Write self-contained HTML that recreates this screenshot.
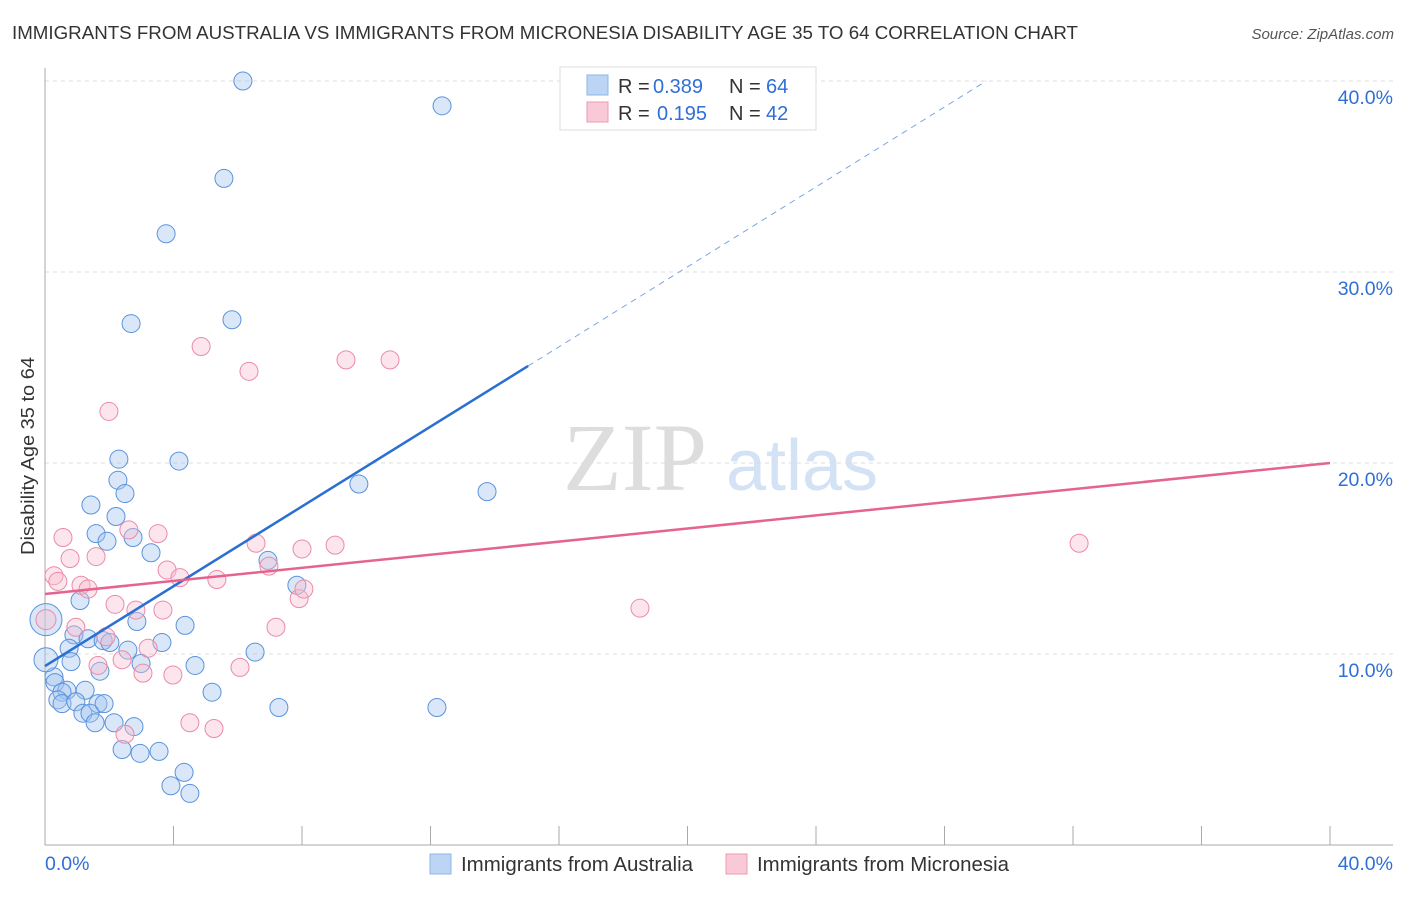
<!DOCTYPE html>
<html><head><meta charset="utf-8"><style>
body{margin:0;background:#fff;width:1406px;height:892px;overflow:hidden;font-family:"Liberation Sans",sans-serif}
</style></head><body>
<svg id="chart" width="1406" height="892" xmlns="http://www.w3.org/2000/svg" font-family="Liberation Sans, sans-serif">
<text x="12" y="39" font-size="18" fill="#333" textLength="1066" lengthAdjust="spacingAndGlyphs">IMMIGRANTS FROM AUSTRALIA VS IMMIGRANTS FROM MICRONESIA DISABILITY AGE 35 TO 64 CORRELATION CHART</text>
<text x="1394" y="39" font-size="15" fill="#555" font-style="italic" text-anchor="end">Source: ZipAtlas.com</text>
<text transform="translate(34,456) rotate(-90)" font-size="18" fill="#333" text-anchor="middle" textLength="198" lengthAdjust="spacingAndGlyphs">Disability Age 35 to 64</text>
<g>
<text x="635" y="490" font-size="96" fill="#ddd" font-family="Liberation Serif, serif" text-anchor="middle">ZIP</text>
<text x="802" y="490" font-size="72" fill="#d3e2f5" text-anchor="middle">atlas</text>
</g>
<g id="grid"></g>
<g id="axes"></g>
<g id="pts"></g>
<g id="lines"></g>
<g>
<rect x="560" y="67" width="256" height="63" fill="#fff" stroke="#ddd"/>
<rect x="587" y="75" width="21" height="20" fill="#bcd5f5" stroke="#8fb5e8"/>
<rect x="587" y="102" width="21" height="20" fill="#f9c9d7" stroke="#ee9ab3"/>
<text x="618" y="93" font-size="20" fill="#333">R =</text>
<text x="653" y="93" font-size="20" fill="#2f6fd6">0.389</text>
<text x="729" y="93" font-size="20" fill="#333">N =</text>
<text x="766" y="93" font-size="20" fill="#2f6fd6">64</text>
<text x="618" y="120" font-size="20" fill="#333">R =</text>
<text x="657" y="120" font-size="20" fill="#2f6fd6">0.195</text>
<text x="729" y="120" font-size="20" fill="#333">N =</text>
<text x="766" y="120" font-size="20" fill="#2f6fd6">42</text>
</g>
<g>
<rect x="430" y="854" width="21" height="20" fill="#bcd5f5" stroke="#8fb5e8"/>
<text x="461" y="871" font-size="20" fill="#333" textLength="232" lengthAdjust="spacingAndGlyphs">Immigrants from Australia</text>
<rect x="726" y="854" width="21" height="20" fill="#f9c9d7" stroke="#ee9ab3"/>
<text x="757" y="871" font-size="20" fill="#333" textLength="252" lengthAdjust="spacingAndGlyphs">Immigrants from Micronesia</text>
</g>
</svg>
<script>
const xTicks=[0,40];
const yTicks=[10,20,30,40];
const blueX=[6.16,12.36,5.57,3.77,2.68,5.82,2.30,4.17,2.27,2.49,1.43,9.77,13.76,2.21,1.59,1.93,2.74,3.30,6.94,7.84,1.09,2.86,4.36,0.90,1.34,1.81,2.02,3.64,2.58,6.54,0.75,0.81,2.99,4.67,1.71,0.28,0.31,0.68,0.53,1.25,5.20,0.40,0.53,0.96,1.65,1.84,7.28,12.20,1.18,1.40,1.56,2.15,2.77,2.40,2.96,3.55,4.33,3.92,4.51,0.03,0.03];
const blueY=[40.0,38.7,34.9,32.0,27.3,27.5,20.2,20.1,19.1,18.4,17.8,18.9,18.5,17.2,16.3,15.9,16.1,15.3,14.9,13.6,12.8,11.7,11.5,11.0,10.8,10.7,10.6,10.6,10.2,10.1,10.3,9.6,9.5,9.4,9.1,8.8,8.5,8.1,8.0,8.1,8.0,7.6,7.4,7.5,7.4,7.4,7.2,7.2,6.9,6.9,6.4,6.4,6.2,5.0,4.8,4.9,3.8,3.1,2.7,11.8,9.7];
const blueR=[9,9,9,9,9,9,9,9,9,9,9,9,9,9,9,9,9,9,9,9,9,9,9,9,9,9,9,9,9,9,9,9,9,9,9,9,9,9,9,9,9,9,9,9,9,9,9,9,9,9,9,9,9,9,9,9,9,9,9,16,12];
const pinkX=[4.86,6.35,9.37,10.74,1.99,32.19,0.56,3.52,2.61,0.78,1.59,6.57,8.0,9.03,0.28,0.40,1.12,1.34,3.80,4.20,5.35,6.97,7.91,8.06,2.18,2.83,3.67,18.52,0.03,0.96,7.19,1.90,3.21,2.40,1.65,3.05,3.98,6.07,4.51,5.26,2.49];
const pinkY=[26.1,24.8,25.4,25.4,22.7,15.8,16.1,16.3,16.5,15.0,15.1,15.8,15.5,15.7,14.1,13.8,13.6,13.4,14.4,14.0,13.9,14.6,12.9,13.4,12.6,12.3,12.3,12.4,11.8,11.4,11.4,10.9,10.3,9.7,9.4,9.0,8.9,9.3,6.4,6.1,5.8];
const blueLine=[0,9.37,15.04,25.08,29.3,40];
const pinkLine=[0,13.14,40,20.0];
const NS='http://www.w3.org/2000/svg';
const sx=v=>45+v*32.125, sy=v=>845-v*19.1;
function mk(t,a,p){const e=document.createElementNS(NS,t);for(const k in a)e.setAttribute(k,a[k]);p.appendChild(e);return e;}
const grid=document.getElementById('grid'),axes=document.getElementById('axes');
yTicks.forEach(v=>{
 const l=mk('line',{x1:45,x2:1393,y1:sy(v),y2:sy(v),stroke:'#ddd','stroke-dasharray':'4,4'},grid);
 
 
 const t=mk('text',{x:1393,y:sy(v)+23,'font-size':19.5,fill:'#2f6fd6','text-anchor':'end'},axes);t.textContent=v.toFixed(1)+'%';
 
 
});
mk('line',{x1:45,x2:45,y1:68,y2:845,stroke:'#aaa'},axes);
mk('line',{x1:45,x2:1393,y1:845,y2:845,stroke:'#aaa'},axes);
for(let i=0;i<=10;i++){mk('line',{x1:sx(i*4),x2:sx(i*4),y1:826,y2:845,stroke:'#aaa'},axes);}
xTicks.forEach((v,i)=>{
 const t=mk('text',{x:i?1393:45,y:870,'font-size':19.5,fill:'#2f6fd6','text-anchor':i?'end':'start'},axes);t.textContent=v.toFixed(1)+'%';
 
 
});
const pts=document.getElementById('pts');
blueX.forEach((x,i)=>{
 const c=mk('circle',{cx:sx(x),cy:sy(blueY[i]),r:blueR[i],fill:'rgba(160,196,240,0.4)',stroke:'#5b93db','stroke-width':1},pts);
 
 
});
pinkX.forEach((x,i)=>{
 const c=mk('circle',{cx:sx(x),cy:sy(pinkY[i]),r:i==28?10:9,fill:'rgba(248,190,208,0.4)',stroke:'#ec8aa8','stroke-width':1},pts);
 
 
});
const lines=document.getElementById('lines');
const b1=mk('line',{x1:sx(blueLine[0]),y1:sy(blueLine[1]),x2:sx(blueLine[2]),y2:sy(blueLine[3]),stroke:'#2a6fd4','stroke-width':2.5},lines);


const b2=mk('line',{x1:sx(blueLine[2]),y1:sy(blueLine[3]),x2:sx(blueLine[4]),y2:sy(blueLine[5]),stroke:'#7aa6e3','stroke-width':1,'stroke-dasharray':'6,5'},lines);


const p1=mk('line',{x1:sx(pinkLine[0]),y1:sy(pinkLine[1]),x2:sx(pinkLine[2]),y2:sy(pinkLine[3]),stroke:'#e5648e','stroke-width':2.5},lines);


</script>
</body></html>
